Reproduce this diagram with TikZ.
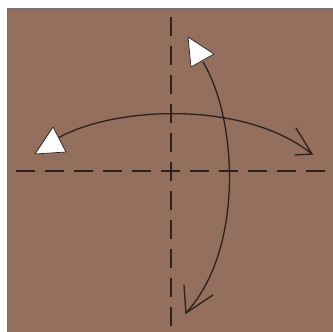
\documentclass[tikz,border=0pt]{standalone}
\definecolor{paper}{RGB}{148,111,94}
\definecolor{ink}{RGB}{45,32,30}
\definecolor{edge}{RGB}{120,112,112}
\tikzset{
  crease/.style={ink, line width=1.4pt, dash pattern=on 19pt off 10pt, dash phase=20pt},
  arc/.style={ink, line width=1.3pt},
  valley/.style={ink, line width=1.3pt, line cap=round},
  whitetip/.style={fill=white, draw=ink, line width=0.7pt, line join=round}
}
\begin{document}
\begin{tikzpicture}[x=1pt,y=-1pt]
\useasboundingbox (0,0) rectangle (333,332);
\fill[white] (0,0) rectangle (333,332);
% paper square
\fill[paper] (7,8) rectangle (333,332);
\draw[edge, line width=1pt] (7,332) -- (7,8.5) -- (333,8.5);
% creases
\coordinate (vt) at (171,8);
\coordinate (vb) at (171,332);
\coordinate (hl) at (7,171);
\coordinate (hr) at (333,171);
\draw[crease] (vt) -- (vb);
\draw[crease] (hl) -- (hr);
% horizontal arc
\coordinate (hs) at (58,138);
\coordinate (he) at (312,154);
\draw[arc] (hs) .. controls (115,106) and (245,100) .. (he);
\coordinate (ha1) at (295,155);
\coordinate (ha2) at (296,128);
\draw[valley] (ha1) -- (he) -- (ha2);
\coordinate (lt1) at (35,154);
\coordinate (lt2) at (53,127);
\coordinate (lt3) at (66,152);
\draw[whitetip] (lt1) -- (lt2) -- (lt3) -- cycle;
% vertical arc
\coordinate (vs) at (203,62);
\coordinate (ve) at (186,313);
\draw[arc] (vs) .. controls (238,120) and (244,250) .. (ve);
\coordinate (va1) at (184,285);
\coordinate (va2) at (213,295);
\draw[valley] (va1) -- (ve) -- (va2);
\coordinate (tt1) at (188,37);
\coordinate (tt2) at (214,54);
\coordinate (tt3) at (191,67);
\draw[whitetip] (tt1) -- (tt2) -- (tt3) -- cycle;
\end{tikzpicture}
\end{document}
